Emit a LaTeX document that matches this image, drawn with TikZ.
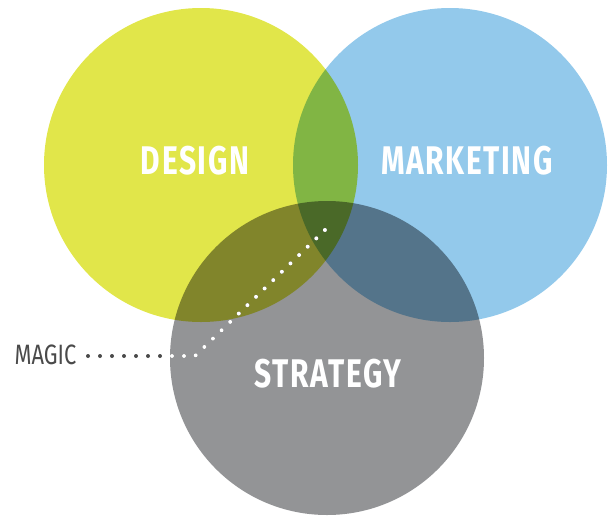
\documentclass[tikz,border=0pt]{standalone}
\usepackage{fontspec}
\newfontfamily\condbold[FakeStretch=0.75, LetterSpace=4]{Fira Sans}
\newfontfamily\condreg[FakeStretch=0.78]{Fira Sans}
\usetikzlibrary{calc}
\definecolor{cyellow}{HTML}{E1E64A}
\definecolor{cblue}{HTML}{93C9EB}
\definecolor{cgray}{HTML}{939496}
\definecolor{ctext}{HTML}{4A4A4A}
\tikzset{
  venn/.style={circle, minimum size=314pt, inner sep=0pt, draw=none},
  biglabel/.style={text=white, font=\condbold\bfseries\fontsize{40}{40}\selectfont, inner sep=0pt},
  smalllabel/.style={text=ctext, font=\condreg\fontsize{28}{28}\selectfont, inner sep=0pt},
  dots/.style={line width=4pt, line cap=round, dash pattern=on 0pt off 12pt}
}
\begin{document}
\begin{tikzpicture}[x=1pt,y=-1pt]
\useasboundingbox (0,0) rectangle (608,515);
\begin{scope}[blend group=multiply]
  \node[venn, fill=cyellow] (design) at (201,165) {};
  \node[venn, fill=cblue] (marketing) at (450,165) {};
  \node[venn, fill=cgray] (strategy) at (327,358) {};
\end{scope}
\node[biglabel] (tdesign) at (195,161) {DESIGN};
\node[biglabel] (tmarketing) at (467,161) {MARKETING};
\node[biglabel] (tstrategy) at (328,374) {STRATEGY};
\node[smalllabel] (magic) at (45.5,355) {MAGIC};
\coordinate (start) at (88,356);
\coordinate (bend) at (195,356);
\coordinate (core) at (328,227);
\draw[dots, ctext] (start) -- (bend) -- (core);
\begin{scope}
  \clip (strategy.center) circle (157pt);
  \draw[dots, white] (start) -- (bend) -- (core);
\end{scope}
\end{tikzpicture}
\end{document}
